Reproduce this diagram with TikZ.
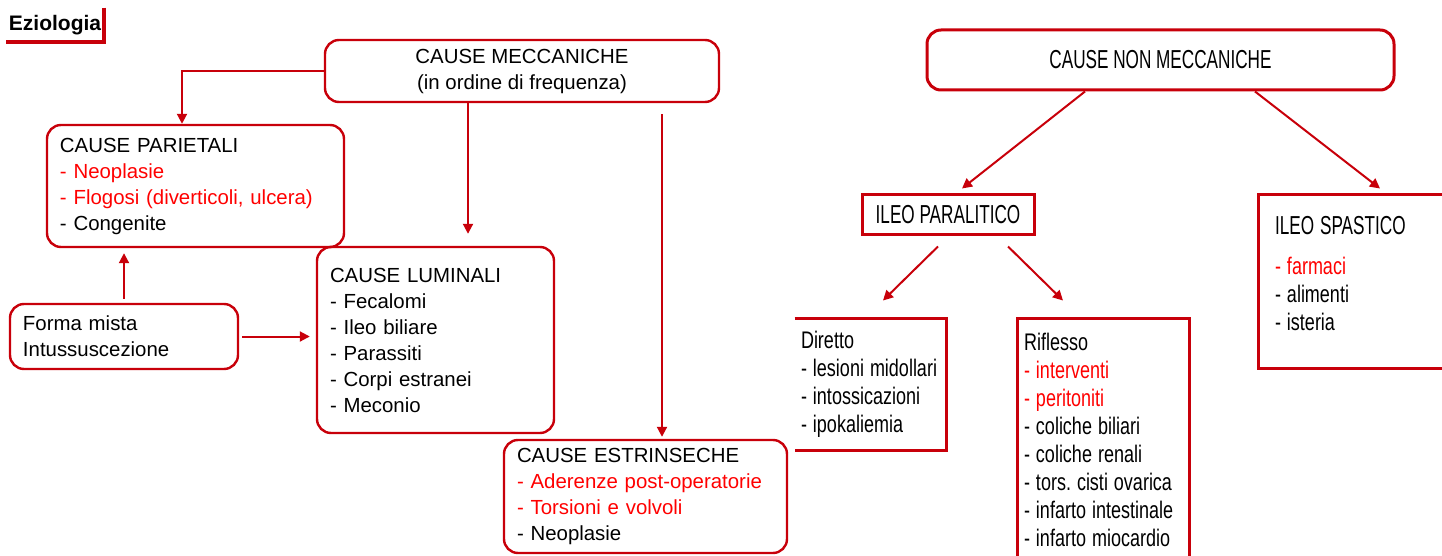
\documentclass[tikz,border=0pt]{standalone}
\usepackage{fontspec}
\setmainfont{Liberation Sans}
\newfontfamily\narrowfont[FakeStretch=0.75]{Liberation Sans}
\newfontfamily\narrowcaps[FakeStretch=0.66]{Liberation Sans}
\usetikzlibrary{arrows.meta, positioning}
\definecolor{ezred}{HTML}{C8000A}
\definecolor{eztext}{HTML}{FF0000}
\newcommand{\rd}[1]{\textcolor{eztext}{#1}}
% narrow fonts: em of the squeezed face
\newcommand{\bodyfont}{\narrowfont\fontsize{12}{14}\selectfont\fontdimen6\font=9pt\relax}
\newcommand{\headfont}{\narrowcaps\fontsize{13}{14}\selectfont\fontdimen6\font=8.6pt\relax}

\begin{document}
\begin{tikzpicture}[x=0.5pt, y=-0.5pt,
  every node/.style={font=\fontsize{10.2}{13}\selectfont, inner sep=0pt},
  causa/.style={draw=ezred, line width=1.2pt, rounded corners=7pt, align=left, inner xsep=6.5pt},
  ileo/.style={draw=ezred, line width=1.5pt, align=left, font=\bodyfont},
  freccia/.style={draw=ezred, line width=1pt, -{Triangle[length=5pt, width=5pt]}},
]
\useasboundingbox (0,0) rectangle (1442,556);

\node[font=\bfseries\fontsize{10.5}{13}\selectfont, minimum width=49pt, minimum height=17pt] (ezio) at (55,25) {Eziologia};
\draw[ezred, line width=2pt] (ezio.north east) -- (ezio.south east) -- (ezio.south west);

% cause meccaniche
\node[causa, align=center, minimum width=197pt, minimum height=31pt] (mecc) at (522,71) {CAUSE MECCANICHE\\(in ordine di frequenza)};
\node[causa, text width=135.5pt, minimum height=61pt] (pariet) at (195.5,186) {CAUSE PARIETALI\\\rd{- Neoplasie}\\\rd{- Flogosi (diverticoli, ulcera)}\\- Congenite};
\node[causa, text width=105.5pt, minimum height=93pt] (lumin) at (435.5,340) {CAUSE LUMINALI\\- Fecalomi\\- Ileo biliare\\- Parassiti\\- Corpi estranei\\- Meconio};
\node[causa, text width=101pt, minimum height=32.5pt] (forma) at (124,336.5) {Forma mista\\Intussuscezione};
\node[causa, text width=128.5pt, minimum height=56.5pt] (estr) at (645.5,496.5) {CAUSE ESTRINSECHE\\\rd{- Aderenze post-operatorie}\\\rd{- Torsioni e volvoli}\\- Neoplasie};

\draw[freccia] (mecc.west) -| ([xshift=-6.75pt]pariet.north);
\draw[freccia, shorten >=6pt] ([xshift=-27pt]mecc.south) -- ([xshift=-27pt]mecc.south |- lumin.north);
\draw[freccia, shorten <=5.5pt, shorten >=1pt] ([xshift=70pt]mecc.south) -- ([xshift=70pt]mecc.south |- estr.north);
\draw[freccia, shorten <=2pt, shorten >=2.5pt] (forma.north) -- (forma.north |- pariet.south);
\draw[freccia, shorten <=1.5pt, shorten >=3pt] (forma.east) -- (forma.east -| lumin.west);

% cause non meccaniche
\node[causa, line width=1.5pt, align=center, font=\headfont, minimum width=233.5pt, minimum height=30pt] (nonmecc) at (1160.5,60) {CAUSE NON MECCANICHE};
\node[ileo, align=center, font=\headfont, minimum width=86pt, minimum height=20pt] (paral) at (948,215) {ILEO PARALITICO};
\node[ileo, text width=79pt, inner xsep=8.5pt, minimum height=86.5pt] (spast) at (1354,281.5) {{\headfont ILEO SPASTICO}\\[6pt]\rd{- farmaci}\\- alimenti\\- isteria\\[-6pt]\mbox{}};
\node[ileo, draw=none, text width=69.5pt, inner xsep=2.5pt, minimum height=64.5pt] (diretto) at (870.5,384.5) {Diretto\\- lesioni midollari\\- intossicazioni\\- ipokaliemia};
\draw[ezred, line width=1.5pt] (diretto.north west) -- (diretto.north east) -- (diretto.south east) -- (diretto.south west);
\node[ileo, text width=79pt, inner xsep=3.5pt, minimum height=122pt] (rifl) at (1103,440) {Riflesso\\\rd{- interventi}\\\rd{- peritoniti}\\- coliche biliari\\- coliche renali\\- tors.\ cisti ovarica\\- infarto intestinale\\- infarto miocardio};

\draw[freccia] ([xshift=-37.75pt]nonmecc.south) -- ([xshift=7pt, yshift=2.5pt]paral.north);
\draw[freccia] ([xshift=47.25pt]nonmecc.south) -- ([xshift=13pt, yshift=2.5pt]spast.north);
\draw[freccia] ([xshift=-5pt, yshift=-5pt]paral.south) -- ([xshift=6.25pt, yshift=9pt]diretto.north);
\draw[freccia] ([xshift=30pt, yshift=-5pt]paral.south) -- ([xshift=-20pt, yshift=8pt]rifl.north);

\end{tikzpicture}
\end{document}
